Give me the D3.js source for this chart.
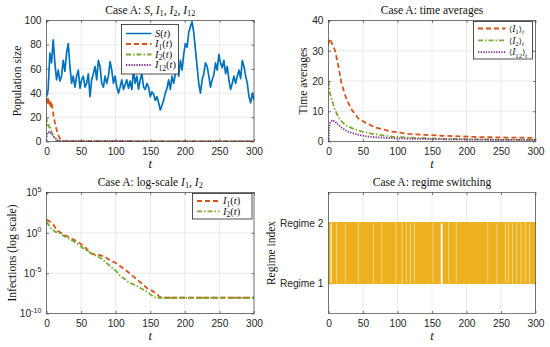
<!DOCTYPE html>
<html>
<head>
<meta charset="utf-8">
<script src="https://cdn.jsdelivr.net/npm/d3@7"></script>
<style>
  body { margin: 0; background: #fff; }
  svg { display: block; }
</style>
</head>
<body>
<script>
// ---- data ----
const tMax = 300;
const xTicks = [0, 50, 100, 150, 200, 250, 300];

// S(t) sampled on a uniform grid from 0 to 300
const sValues = [37,43,73,65,84,65,51,59,50,54,
  67,58,73,81,62,48,54,45,54,59,
  44,51,54,45,48,56,37,51,56,62,
  51,67,62,48,45,54,48,54,66,59,
  48,54,45,40,45,51,43,47,51,44,
  50,43,59,48,54,43,51,56,45,43,
  48,45,37,41,39,34,37,32,26,30,
  34,40,44,51,43,54,48,56,62,54,
  67,59,72,81,78,90,95,99,90,76,
  62,48,40,51,56,65,62,54,45,51,
  55,65,59,72,65,61,67,56,62,51,
  43,48,54,48,54,59,52,67,62,54,
  48,37,32,40,34];

const i1Times = [0,1,2,3,4,5,6,7,8,10,12,14,16,18,20,22,25,300];
const i1Values = [32,37,30,35,31,33,29,33,30,22,16,11,7,4,2,1,0.3,0];
const i2Times = [0,1,2,3,4,5,6,8,10,12,14,16,20,300];
const i2Values = [20,14,12,14,11,12,10,7,4.5,2.5,1.2,0.5,0.1,0];
const i12Times = [0,1,2,3,4,5,6,8,10,12,14,17,20,300];
const i12Values = [4,6,7.5,8,7.5,8,7,6,4.5,3,1.8,0.8,0.3,0];

// running time averages
const avg1Times = [0,0.5,2,5,9.6,14.5,19,26.5,34,43,55,67.5,80,92,104,116,140,164,190,212,236,260,280,300];
const avg1Values = [32,33,34,32.5,30,24.7,19,13.7,10.4,7.7,6,4.7,3.9,3.3,2.9,2.5,2.2,1.9,1.7,1.5,1.4,1.3,1.25,1.2];
const avg2Times = [0,2,4.8,9.6,14,19,26,34,48,67.5,92,116,140,164,200,240,300];
const avg2Values = [20,16,13.7,10.4,8.2,6.6,5.2,4.4,3.3,2.4,1.6,1.3,1.1,0.9,0.75,0.65,0.55];
const avg12Times = [0,1,3,6,10,14.5,19,24,30,38.6,48,58,75,92,120,150,200,250,300];
const avg12Values = [0,5,6.5,7.1,6.5,5.5,4.6,3.8,3.1,2.5,2,1.6,1.3,1.1,0.9,0.8,0.65,0.55,0.5];

// log-scale infections
const logI1Times = [0,3,6,10,15,20,25,32,39,45,51,57,63,67,70,76,83,90,100,108,117,124,131,138,146,153,160,163,166,300];
const logI1Values = [40,32,20,10,2,1.1,0.6,0.3,0.15,0.08,0.035,0.0125,3.2e-3,2.5e-3,2e-3,1.8e-3,1.25e-3,5e-4,1.8e-4,6.3e-5,1.6e-5,5e-6,1.6e-6,5e-7,1.25e-7,6.3e-8,2.5e-8,1.25e-8,9e-9,9e-9];
const logI2Times = [0,3,6,10,13,16,20,25,32,39,45,53,60,66,73,78,85,93,100,105,111,117,123,129,135,141,147,151,155,158,300];
const logI2Values = [23,10,4,2,1.26,1.2,0.8,0.4,0.2,0.09,0.04,0.0125,5e-3,2.5e-3,1.25e-3,8e-4,2.5e-4,6.3e-5,2e-5,6.3e-6,2.5e-6,1e-6,5e-7,3.2e-7,1.6e-7,8e-8,4e-8,2e-8,1.25e-8,9e-9,9e-9];
const logTicks = [1e-10, 1e-5, 1, 1e5];

// regime switching: starting regime and switch times
const regimeStart = 1;
const regimeSwitches = [0.8,2.0,5.7,7.2,8.8,10.4,13.2,14.8,16.4,18.0,19.6,21.2,22.8,25.6,27.2,28.8,30.4,32.0,33.6,35.2,36.8,38.4,40.0,41.6,
  44.4,46.0,47.6,49.2,50.8,52.4,54.0,55.6,57.2,58.8,60.4,62.0,63.6,66.4,68.0,69.6,71.2,72.8,74.4,76.0,78.8,80.4,82.0,83.6,85.2,86.8,
  88.4,90.0,91.6,93.2,94.8,96.4,99.2,100.8,102.4,104.0,105.2,
  108.0,109.6,111.2,114.0,115.6,117.2,120.0,121.6,123.2,126.0,127.6,129.2,130.8,132.4,134.0,135.6,137.2,138.8,140.4,142.0,143.6,
  145.2,146.8,148.4,150.0,152.8,154.4,156.0,157.6,159.2,160.8,161.6,
  166.5,168.0,169.6,171.2,172.8,175.6,177.2,178.8,180.4,182.0,183.6,186.4,188.0,189.6,191.2,192.8,194.4,196.0,197.6,199.2,200.8,
  202.4,204.0,205.6,207.2,208.8,210.4,212.0,213.6,215.2,216.8,218.4,220.0,221.6,223.2,224.8,226.4,228.0,229.6,232.4,234.0,235.6,237.2,239.0,
  241.2,242.8,245.6,247.2,248.8,250.4,252.0,253.6,255.2,258.0,259.6,262.4,264.0,265.6,268.4,270.0,271.6,274.4,276.0,277.6,280.4,
  282.0,283.6,286.4,288.0,289.6,292.4,294.0,295.6,297.2,298.8];

// ---- styling ----
const C = { blue: "#0072BD", red: "#D95319", green: "#77AC30", purple: "#7E2F8E", yellow: "#EDB120", ink: "#262626", grid: "#e3e3e3" };
const serif = "'Liberation Serif', 'DejaVu Serif', serif";
const sans = "'Liberation Sans', Arial, sans-serif";

const svg = d3.select("body").append("svg").attr("width", 550).attr("height", 347);

// text with italic / subscript pieces, parts = [[text, kind]]
// kinds: r roman, i italic, s subscript, si italic subscript, a angle bracket
function rich(sel, parts, size) {
  let shift = 0;
  parts.forEach(([txt, kind]) => {
    const sub = kind === "s" || kind === "si";
    const target = sub ? 2.3 : 0;
    sel.append("tspan")
      .attr("dy", target - shift)
      .attr("font-size", sub ? size * 0.72 : kind === "a" ? size * 0.85 : size)
      .attr("font-style", kind === "i" || kind === "si" ? "italic" : "normal")
      .text(txt);
    shift = target;
  });
}

function panel(o) {
  const g = svg.append("g");
  const x = d3.scaleLinear([0, tMax], [o.x0, o.x1]);
  const y = o.y;

  // grid
  g.append("g").selectAll("line").data(xTicks).join("line")
    .attr("x1", d => x(d)).attr("x2", d => x(d)).attr("y1", o.y0).attr("y2", o.y1)
    .attr("stroke", C.grid).attr("stroke-width", 0.8);
  g.append("g").selectAll("line").data(o.yTicks).join("line")
    .attr("x1", o.x0).attr("x2", o.x1).attr("y1", d => y(d)).attr("y2", d => y(d))
    .attr("stroke", C.grid).attr("stroke-width", 0.8);

  const axes = [
    [d3.axisBottom(x).tickValues(xTicks).tickSize(-2.5).tickPadding(6.5), `translate(0,${o.y1})`],
    [d3.axisTop(x).tickValues(xTicks).tickSize(-2.5).tickFormat(""), `translate(0,${o.y0})`],
    [d3.axisLeft(y).tickValues(o.yTicks).tickSize(-2.5).tickPadding(5).tickFormat(o.yFormat || null), `translate(${o.x0},0)`],
    [d3.axisRight(y).tickValues(o.yTicks).tickSize(-2.5).tickFormat(""), `translate(${o.x1},0)`]
  ];
  const axG = axes.map(([ax, tr]) => {
    const a = g.append("g").attr("transform", tr).call(ax);
    a.select(".domain").remove();
    a.selectAll("line").attr("stroke", C.ink).attr("stroke-width", 0.6);
    a.selectAll("text").attr("fill", C.ink).attr("font-family", sans).attr("font-size", 10.2);
    return a;
  });

  const clipId = "clip" + o.id;
  svg.append("clipPath").attr("id", clipId).append("rect")
    .attr("x", o.x0).attr("y", o.y0).attr("width", o.x1 - o.x0).attr("height", o.y1 - o.y0);
  const plot = g.append("g").attr("clip-path", `url(#${clipId})`);

  g.append("rect").attr("x", o.x0).attr("y", o.y0).attr("width", o.x1 - o.x0).attr("height", o.y1 - o.y0)
    .attr("fill", "none").attr("stroke", C.ink).attr("stroke-width", 0.6);

  // title
  rich(g.append("text").attr("x", (o.x0 + o.x1) / 2).attr("y", o.y0 - 6.5)
    .attr("text-anchor", "middle").attr("font-family", serif).attr("fill", "#111"), o.title, 11.5);
  // x label
  g.append("text").attr("x", (o.x0 + o.x1) / 2).attr("y", o.y1 + 26).attr("text-anchor", "middle")
    .attr("font-family", serif).attr("font-style", "italic").attr("font-size", 12.5).attr("fill", "#111").text("t");
  // y label
  g.append("text").attr("transform", `translate(${o.yLabelX},${(o.y0 + o.y1) / 2}) rotate(-90)`)
    .attr("text-anchor", "middle").attr("font-family", serif).attr("font-size", 11.5).attr("fill", "#111").text(o.yLabel);

  return { g, x, y, plot, axG };
}

function drawLine(p, times, values, color, width, dash) {
  const data = times.map((t, i) => [t, values[i]]);
  p.plot.append("path").datum(data)
    .attr("d", d3.line().x(d => p.x(d[0])).y(d => p.y(d[1])))
    .attr("fill", "none").attr("stroke", color).attr("stroke-width", width)
    .attr("stroke-dasharray", dash || null).attr("stroke-linejoin", "round");
}

function legend(p, box, items) {
  const lg = p.g.append("g");
  lg.append("rect").attr("x", box.x).attr("y", box.y).attr("width", box.w).attr("height", box.h)
    .attr("fill", "#fff").attr("stroke", C.ink).attr("stroke-width", 0.8);
  items.forEach((it, i) => {
    const yy = box.y + box.first + i * box.step;
    lg.append("line").attr("x1", box.x + 4.5).attr("x2", box.x + box.lineW).attr("y1", yy).attr("y2", yy)
      .attr("stroke", it.color).attr("stroke-width", it.width).attr("stroke-dasharray", it.dash || null);
    rich(lg.append("text").attr("x", box.x + box.lineW + 3.5).attr("y", yy + 3.2)
      .attr("font-family", serif).attr("fill", "#111"), it.label, box.font || 10.5);
  });
}

const dashed = "5,3", dashDot = "5,2,1.5,2", dotted = "1.3,1.3";

// ---- top-left: populations ----
const tl = panel({
  id: "tl", x0: 46.5, x1: 254, y0: 20.5, y1: 141.5,
  y: d3.scaleLinear([0, 100], [141.5, 20.5]), yTicks: [0, 20, 40, 60, 80, 100],
  yLabel: "Population size", yLabelX: 21,
  title: [["Case A: ", "r"], ["S", "i"], [", ", "r"], ["I", "i"], ["1", "s"], [", ", "r"], ["I", "i"], ["2", "s"], [", ", "r"], ["I", "i"], ["12", "s"]]
});
drawLine(tl, sValues.map((_, i) => i * tMax / (sValues.length - 1)), sValues, C.blue, 1.7);
drawLine(tl, i1Times, i1Values, C.red, 1.8, dashed);
drawLine(tl, i2Times, i2Values, C.green, 1.8, dashDot);
drawLine(tl, i12Times, i12Values, C.purple, 1.8, dotted);
legend(tl, { x: 121.5, y: 24.5, w: 57, h: 49.5, first: 9, step: 10.5, lineW: 30 }, [
  { color: C.blue, width: 1.5, label: [["S", "i"], ["(", "r"], ["t", "i"], [")", "r"]] },
  { color: C.red, width: 1.8, dash: dashed, label: [["I", "i"], ["1", "s"], ["(", "r"], ["t", "i"], [")", "r"]] },
  { color: C.green, width: 1.8, dash: dashDot, label: [["I", "i"], ["2", "s"], ["(", "r"], ["t", "i"], [")", "r"]] },
  { color: C.purple, width: 1.8, dash: dotted, label: [["I", "i"], ["12", "s"], ["(", "r"], ["t", "i"], [")", "r"]] }
]);

// ---- top-right: time averages ----
const tr = panel({
  id: "tr", x0: 328.5, x1: 535.5, y0: 20.5, y1: 141.5,
  y: d3.scaleLinear([0, 40], [141.5, 20.5]), yTicks: [0, 10, 20, 30, 40],
  yLabel: "Time averages", yLabelX: 307,
  title: [["Case A: time averages", "r"]]
});
drawLine(tr, avg1Times, avg1Values, C.red, 1.8, dashed);
drawLine(tr, avg2Times, avg2Values, C.green, 1.8, dashDot);
drawLine(tr, avg12Times, avg12Values, C.purple, 1.8, dotted);
legend(tr, { x: 473.5, y: 21.5, w: 59, h: 37.5, first: 7, step: 11.8, lineW: 32, font: 9.5 }, [
  { color: C.red, width: 1.8, dash: dashed, label: [["⟨", "a"], ["I", "i"], ["1", "s"], ["⟩", "a"], ["t", "si"]] },
  { color: C.green, width: 1.8, dash: dashDot, label: [["⟨", "a"], ["I", "i"], ["2", "s"], ["⟩", "a"], ["t", "si"]] },
  { color: C.purple, width: 1.8, dash: dotted, label: [["⟨", "a"], ["I", "i"], ["12", "s"], ["⟩", "a"], ["t", "si"]] }
]);

// ---- bottom-left: log scale ----
const bl = panel({
  id: "bl", x0: 46.5, x1: 254, y0: 192.5, y1: 313.5,
  y: d3.scaleLog([1e-10, 1e5], [313.5, 192.5]), yTicks: logTicks,
  yFormat: () => "", yLabel: "Infections (log scale)", yLabelX: 15.5,
  title: [["Case A: log-scale ", "r"], ["I", "i"], ["1", "s"], [", ", "r"], ["I", "i"], ["2", "s"]]
});
bl.axG[2].selectAll(".tick text").each(function (d) {
  const t = d3.select(this);
  t.append("tspan").text("10");
  t.append("tspan").attr("dy", -4.5).attr("font-size", 7.2).text(Math.round(Math.log10(d)));
});
drawLine(bl, logI1Times, logI1Values, C.red, 1.8, dashed);
drawLine(bl, logI2Times, logI2Values, C.green, 1.8, dashDot);
legend(bl, { x: 192.5, y: 193.5, w: 59.5, h: 25.5, first: 7.5, step: 10.3, lineW: 27 }, [
  { color: C.red, width: 1.8, dash: dashed, label: [["I", "i"], ["1", "s"], ["(", "r"], ["t", "i"], [")", "r"]] },
  { color: C.green, width: 1.8, dash: dashDot, label: [["I", "i"], ["2", "s"], ["(", "r"], ["t", "i"], [")", "r"]] }
]);

// ---- bottom-right: regime switching ----
const br = panel({
  id: "br", x0: 328.5, x1: 535.5, y0: 192.5, y1: 313.5,
  y: d3.scaleLinear([0.5, 2.5], [313.5, 192.5]), yTicks: [1, 2],
  yFormat: d => "Regime " + d, yLabel: "Regime index", yLabelX: 275,
  title: [["Case A: regime switching", "r"]]
});
let reg = regimeStart;
const regT = [0], regV = [reg];
regimeSwitches.forEach(s => { reg = 3 - reg; regT.push(s); regV.push(reg); });
regT.push(tMax); regV.push(reg);
br.plot.append("path").datum(regT.map((t, i) => [t, regV[i]]))
  .attr("d", d3.line().x(d => br.x(d[0])).y(d => br.y(d[1])).curve(d3.curveStepAfter))
  .attr("fill", "none").attr("stroke", C.yellow).attr("stroke-width", 1.5);
</script>
</body>
</html>
